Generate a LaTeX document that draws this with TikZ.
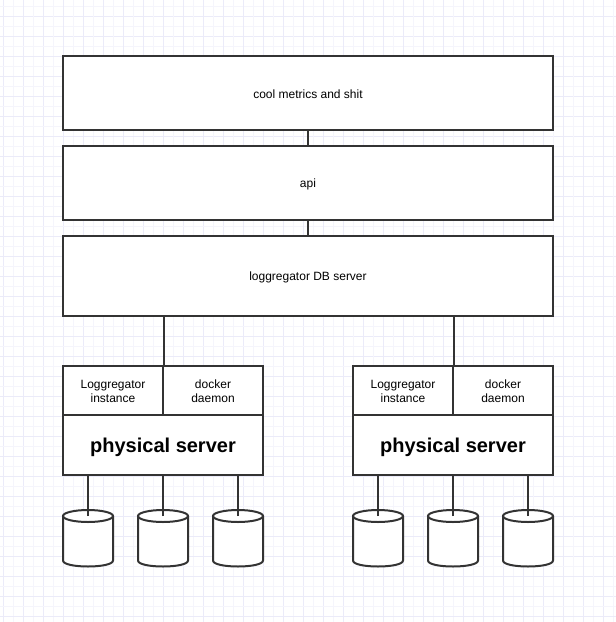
\documentclass[tikz,border=0pt]{standalone}
\usepackage{fontspec}
\setmainfont{Liberation Sans}
\definecolor{gridlight}{RGB}{245,245,252}
\definecolor{griddark}{RGB}{235,235,249}
\definecolor{edge}{RGB}{51,51,51}
\tikzset{
  box/.style={draw=edge, line width=2pt, fill=white, minimum width=490pt, minimum height=74pt, inner sep=0pt, font=\fontsize{12pt}{14pt}\selectfont, align=center},
  cell/.style={draw=edge, line width=2pt, fill=white, minimum width=100pt, minimum height=49pt, inner sep=0pt, font=\fontsize{12pt}{14pt}\selectfont, align=center},
  phys/.style={draw=edge, line width=2pt, fill=white, minimum width=200pt, minimum height=60pt, inner sep=0pt, font=\bfseries\fontsize{20pt}{24pt}\selectfont},
  link/.style={draw=edge, line width=2pt},
  cyl/.style={draw=edge, line width=2pt, fill=white},
  lbl/.style={inner sep=0pt, align=center}
}
\newcommand{\mycyl}[2]{%
  \coordinate (#1) at (#2,516);
  \path[cyl] (#2-25,516) -- (#2-25,560.5) .. controls (#2-25,568.5) and (#2+25,568.5) .. (#2+25,560.5) -- (#2+25,516);
  \path[cyl] (#2,516) ellipse (25 and 6);
}
\begin{document}
\begin{tikzpicture}[x=1pt,y=-1pt]
\fill[white] (0,0) rectangle (616,622);
\useasboundingbox (0,0) rectangle (616,622);
% grid
\foreach \i in {0,...,30} {
  \draw[gridlight, line width=1pt] ({13.3+20*\i},0) -- ({13.3+20*\i},622);
  \draw[griddark, line width=1pt] ({3.3+20*\i},0) -- ({3.3+20*\i},622);
  \draw[gridlight, line width=1pt] (0,{6.5+20*\i}) -- (616,{6.5+20*\i});
  \draw[griddark, line width=1pt] (0,{16.5+20*\i}) -- (616,{16.5+20*\i});
}
% main boxes
\node[box] (top) at (308,93) {};
\node[box] (api) at (308,183) {};
\node[box, minimum height=80pt] (db) at (308,276) {};
\node[lbl, font=\fontsize{12pt}{14pt}\selectfont] at ([yshift=-1.5pt]top.center) {cool metrics and shit};
\node[lbl, font=\fontsize{12pt}{14pt}\selectfont] at ([yshift=-1.5pt]api.center) {api};
\node[lbl, font=\fontsize{12pt}{14pt}\selectfont] at ([yshift=-1.5pt]db.center) {loggregator DB server};
\draw[link] (top.south) -- (api.north);
\draw[link] (api.south) -- (db.north);
% left server
\node[cell, text depth=0pt] (lcA) at (113,390.5) {};
\node[cell] (lcB) at (213,390.5) {};
\node[phys] (lphys) at (163,445) {};
% right server
\node[cell] (rcA) at (403,390.5) {};
\node[cell] (rcB) at (503,390.5) {};
\node[phys] (rphys) at (453,445) {};
\foreach \c/\t in {lcA/{Loggregator\\instance}, lcB/{docker\\daemon}, rcA/{Loggregator\\instance}, rcB/{docker\\daemon}} {
  \node[lbl, font=\fontsize{12pt}{14pt}\selectfont] at ([yshift=-1pt]\c.center) {\t};
}
\node[lbl, font=\bfseries\fontsize{20pt}{24pt}\selectfont] at ([yshift=-2pt]lphys.center) {physical server};
\node[lbl, font=\bfseries\fontsize{20pt}{24pt}\selectfont] at ([yshift=-2pt]rphys.center) {physical server};
\draw[link] (lcA.north east) -- (lcA.north east |- db.south);
\draw[link] (rcA.north east) -- (rcA.north east |- db.south);
% disks
\mycyl{dA}{88}
\mycyl{dB}{163}
\mycyl{dC}{238}
\mycyl{dD}{378}
\mycyl{dE}{453}
\mycyl{dF}{528}
\foreach \d/\s in {dA/lphys,dB/lphys,dC/lphys,dD/rphys,dE/rphys,dF/rphys} {
  \draw[link] (\d) -- (\d |- \s.south);
}
\end{tikzpicture}
\end{document}
